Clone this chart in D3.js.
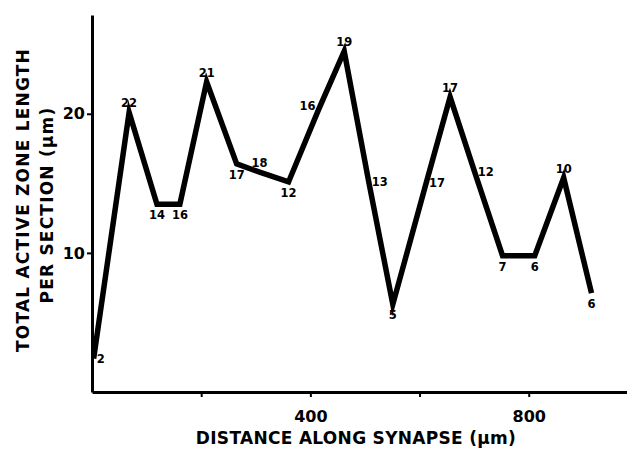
<!DOCTYPE html>
<html>
<head>
<meta charset="utf-8">
<script src="https://cdn.jsdelivr.net/npm/d3@7"></script>
<style>
	body { margin: 0; background: #fff; }
	svg { display: block; }
	text { font-family: "DejaVu Sans", "Liberation Sans", Arial, sans-serif; font-weight: bold; fill: #000; }
</style>
</head>
<body>
<svg id="chart" width="627" height="451"></svg>
<script>
// distance along synapse (um) and active zone length per section (um)
var distances = [3, 68, 119, 161, 210, 265, 307, 360, 415, 462, 507, 551, 612, 656, 701, 752, 811, 864, 915];
var zoneLength = [2.4, 20.1, 13.5, 13.5, 22.3, 16.4, 15.8, 15.1, 20.3, 24.5, 15.1, 6.3, 15.0, 21.2, 15.8, 9.8, 9.8, 15.4, 7.1];
var pointLabels = ["2", "22", "14", "16", "21", "17", "18", "12", "16", "19", "13", "5", "17", "17", "12", "7", "6", "10", "6"];
var labelSide = ["r", "t", "b", "b", "t", "b", "t", "b", "l", "t", "r", "b", "r", "t", "r", "b", "b", "t", "b"];

var xTicks = [200, 400, 600, 800];
var xTickLabels = [400, 800];
var yTicks = [10, 20];

var svg = d3.select("#chart"),
	margin = {top: 15, right: 0, bottom: 59, left: 92},
	width = 627 - margin.left - margin.right,
	height = 451 - margin.top - margin.bottom;

var g = svg.append("g").attr("transform", "translate(" + margin.left + "," + margin.top + ")");

var x = d3.scaleLinear().domain([0, 980]).range([0, width]);
var y = d3.scaleLinear().domain([0, 27.1]).range([height, 0]);

var data = distances.map(function(d, i) {
	return {x: d, y: zoneLength[i], label: pointLabels[i], side: labelSide[i]};
});

// x axis
var xAxis = g.append("g")
	.attr("transform", "translate(0," + height + ")")
	.call(d3.axisBottom(x)
		.tickValues(xTicks)
		.tickSize(5)
		.tickSizeOuter(0)
		.tickPadding(14)
		.tickFormat(function(d) { return xTickLabels.indexOf(d) >= 0 ? d : ""; }));
xAxis.select(".domain").attr("stroke-width", 3);
xAxis.selectAll(".tick line").attr("stroke-width", 2);
xAxis.selectAll("text").style("font-size", "16px");

// y axis
var yAxis = g.append("g")
	.call(d3.axisLeft(y)
		.tickValues(yTicks)
		.tickSize(5)
		.tickSizeOuter(0)
		.tickPadding(2));
yAxis.select(".domain").attr("stroke-width", 3);
yAxis.selectAll(".tick line").attr("stroke-width", 2);
yAxis.selectAll("text").style("font-size", "16px");

// the line
var line = d3.line()
	.x(function(d) { return x(d.x); })
	.y(function(d) { return y(d.y); });

g.append("path")
	.datum(data)
	.attr("fill", "none")
	.attr("stroke", "#000")
	.attr("stroke-width", 5.5)
	.attr("stroke-linejoin", "miter")
	.attr("stroke-miterlimit", 10)
	.attr("d", line);

// number of sections next to each point
var off = {
	t: {dx: 0, dy: -5, a: "middle"},
	b: {dx: 0, dy: 15, a: "middle"},
	l: {dx: -3, dy: 0, a: "end"},
	r: {dx: 3, dy: 4, a: "start"}
};

g.selectAll(".plabel")
	.data(data)
	.enter().append("text")
	.attr("class", "plabel")
	.attr("x", function(d) { return x(d.x) + off[d.side].dx; })
	.attr("y", function(d) { return y(d.y) + off[d.side].dy; })
	.attr("text-anchor", function(d) { return off[d.side].a; })
	.style("font-size", "11.5px")
	.text(function(d) { return d.label; });

// axis titles
svg.append("text")
	.attr("text-anchor", "middle")
	.attr("x", 356)
	.attr("y", 444)
	.style("font-size", "17px")
	.style("letter-spacing", "0.3px")
	.text("DISTANCE ALONG SYNAPSE (µm)");

svg.append("text")
	.attr("text-anchor", "middle")
	.attr("transform", "translate(29,200) rotate(-90)")
	.style("font-size", "17px")
	.style("letter-spacing", "1.2px")
	.text("TOTAL ACTIVE ZONE LENGTH");

svg.append("text")
	.attr("text-anchor", "middle")
	.attr("transform", "translate(53,205) rotate(-90)")
	.style("font-size", "17px")
	.style("letter-spacing", "1.2px")
	.text("PER SECTION (µm)");
</script>
</body>
</html>
